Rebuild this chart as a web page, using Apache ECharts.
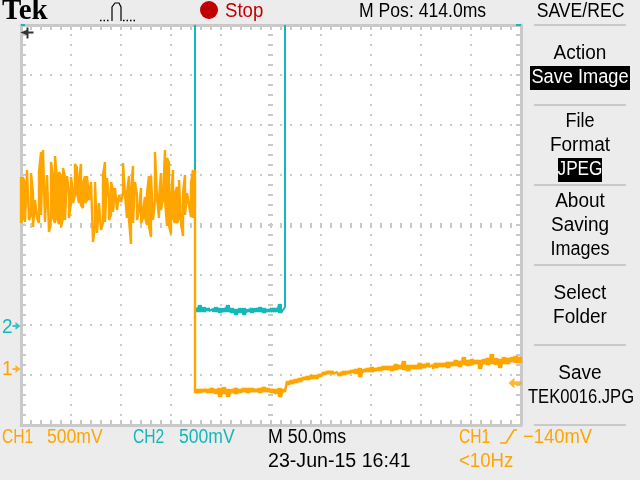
<!DOCTYPE html>
<html><head><meta charset="utf-8">
<script src="https://cdn.jsdelivr.net/npm/echarts@6/dist/echarts.min.js"></script>
<style>html,body{margin:0;padding:0;background:#ececec}#c{width:640px;height:480px}</style>
</head><body><div id="c"></div>
<script>
// Oscilloscope capture: x in ms from the left edge of the screen, y in V above the bottom edge
const ch1NoiseTop = [2.48,2.48,2.40,2.55,2.53,2.52,2.32,2.25,2.23,2.53,2.73,2.75,2.75,2.50,2.50,2.63,2.48,2.69,2.45,2.53,2.48,2.57,2.48,2.49,2.32,2.48,2.33,2.61,2.57,2.45,2.61,2.42,2.49,2.49,2.47,2.43,2.43,2.43,2.43,2.22,2.22,2.50,2.63,2.47,2.27,2.43,2.35,2.37,2.37,2.30,2.30,2.62,2.62,2.32,2.49,2.32,2.59,2.43,2.30,2.15,2.37,2.15,2.28,2.32,2.49,2.49,2.49,2.73,2.73,2.27,2.52,2.27,2.75,2.67,2.62,2.27,2.55,2.32,2.38,2.45,2.46,2.32,2.50,2.32,2.32,2.42,2.55,2.55];
const ch1NoiseBottom = [2.02,2.07,2.03,2.02,2.05,2.10,1.98,1.96,2.07,2.02,2.10,2.08,2.03,2.02,1.93,2.05,2.08,2.02,2.07,2.01,1.98,2.07,2.05,2.07,2.07,2.22,2.22,2.30,2.32,2.22,2.20,2.17,2.22,2.25,2.25,2.27,1.83,2.00,1.92,1.93,1.95,2.02,2.03,2.03,2.05,2.10,2.13,2.15,2.15,2.17,2.23,2.32,2.30,2.07,2.05,1.81,2.02,2.02,2.05,2.07,2.02,2.07,2.08,2.00,1.99,1.88,2.05,2.25,2.27,2.07,2.15,2.15,2.25,1.99,1.99,1.91,2.07,2.02,2.02,2.07,2.02,1.89,2.10,2.10,2.20,2.08,2.07,2.07];
const ch1LowTop = [.36,.36,.36,.36,.37,.36,.37,.38,.36,.36,.37,.36,.37,.37,.37,.36,.37,.38,.37,.36,.36,.37,.36,
 .44,.45,.46,.47,.48,.49,.50,.50,.51,
 .53,.54,.54,.53,.53,.54,.54,.55,.56,.57,.56,.57,.58,.57,.58,.59,.59,.59,.61,.60,.64,.60,.60,.60,.62,.61,.62,.60,.62,.62,.62,.63,.63,.65,.64,.68,.65,.66,.65,.65,.66,.67,.71,.67,.66,.68,.67,.68,.69,.68];
const ch1LowBottom = [.32,.32,.33,.32,.32,.31,.28,.31,.28,.32,.31,.32,.33,.32,.33,.33,.32,.33,.33,.32,.31,.28,.33,
 .40,.41,.42,.43,.45,.45,.46,.46,.48,
 .50,.51,.51,.51,.49,.50,.51,.52,.51,.48,.53,.53,.53,.54,.54,.55,.55,.54,.55,.56,.55,.54,.56,.56,.56,.57,.58,.56,.57,.58,.58,.57,.59,.59,.58,.60,.59,.60,.61,.56,.61,.60,.61,.60,.57,.61,.61,.63,.62,.62];
const ch2LowTop = [1.17,1.20,1.18,1.17,1.16,1.18,1.17,1.17,1.20,1.17,1.16,1.17,1.17,1.16,1.17,1.17,1.18,1.17,1.16,1.17,1.17,1.21,1.18];
const ch2LowBottom = [1.13,1.13,1.13,1.14,1.13,1.13,1.12,1.13,1.13,1.12,1.10,1.12,1.10,1.13,1.12,1.13,1.13,1.12,1.13,1.13,1.13,1.12,1.13];
const noiseStep = 2, lowStart = 174, lowStep = 4, ch2RiseAt = 264, topEdge = 4;
const ch1Ground = 0.56, ch2Ground = 0.99, triggerLevel = 0.42, cursorLevel = 3.92;
const screenTexts = ['SAVE/REC','M Pos: 414.0ms','Stop','Action','Save Image','File','Format','JPEG','About','Saving','Images','Select','Folder','Save','TEK0016.JPG','CH1','500mV','CH2','500mV','M 50.0ms','23-Jun-15 16:41','CH1','\u2212140mV','<10Hz','2','1'];

const CH1 = '#ffa500', CH2 = '#14b8b8', INK = '#000', GRID = '#c9c9c9', RED = '#c00000';
const FONT = '"Liberation Sans",sans-serif';

function columns(start, step, tops, bots) {   // noise columns joined top-to-top and bottom-to-bottom
  const out = [];
  tops.forEach((t, i) => {
    const x = start + i * step;
    if (i % 2 === 0) { out.push([x, t], [x, bots[i]]); }
    else { out.push([x, bots[i]], [x, t]); }
  });
  return out;
}
function weave(start, step, tops, bots) {     // thin band: diagonal strokes fill between the edges
  const out = [];
  tops.forEach((t, i) => {
    const x = start + i * step;
    out.push([x, t], [x, bots[i]], [x + step / 2, t], [x + step / 2, bots[i]]);
  });
  return out;
}
const ch1Data = columns(0, noiseStep, ch1NoiseTop, ch1NoiseBottom)
  .concat(weave(lowStart, lowStep, ch1LowTop, ch1LowBottom));
const ch2Data = [[0, topEdge], [4, topEdge], [null, null], [495, topEdge], [500, topEdge], [null, null], [lowStart, topEdge]]
  .concat(weave(lowStart, lowStep, ch2LowTop.slice(0, 22), ch2LowBottom.slice(0, 22)))
  .concat([[ch2RiseAt, ch2LowTop[22]], [ch2RiseAt, topEdge]]);

const rightArrow = 'path://M0,3L3,3L3,0L8,4L3,8L3,5L0,5Z';
const leftArrow = 'path://M13,3.5L6,3.5L6,0L0,5L6,10L6,6.5L13,6.5Z';
const cursorArrow = 'path://M13,4L8,4L8,0L6,0L6,2.5L0,5L6,7.5L6,11L8,11L8,6L13,6Z';

// x, y, colour, align, horizontal squeeze for each entry of screenTexts
const textLayout = [
  [580.5,11,INK,'center',.88],[359,11,INK,'left',.88],[225,11,RED,'left',.93],
  [580,53,INK,'center',.95],[580,77,'#fff','center',.91],
  [580,121,INK,'center',.9],[580,145,INK,'center',.95],[580,169,'#fff','center',.86],
  [580,201,INK,'center',.95],[580,225,INK,'center',.95],[580,249,INK,'center',.9],
  [580,293,INK,'center',.95],[580,317,INK,'center',.95],
  [580,373,INK,'center',.95],[581,397,INK,'center',.83],
  [2,437,CH1,'left',.78],[47,437,CH1,'left',.88],
  [133,437,CH2,'left',.78],[179,437,CH2,'left',.88],
  [268,437,INK,'left',.89],[268,461,INK,'left',.98],
  [459,437,CH1,'left',.78],[523,437,CH1,'left',.92],[459,461,CH1,'left',.93],
  [2,327,CH2,'left',.95],[2,369,CH1,'left',.95]
];
const separatorRows = [25, 105, 185, 265, 345, 425];

const graphic = [
  { type: 'rect', z: 10, shape: { x: 530, y: 66, width: 100, height: 24 }, style: { fill: '#000' } },
  { type: 'rect', z: 10, shape: { x: 558, y: 158, width: 44, height: 24 }, style: { fill: '#000' } },
  { type: 'circle', z: 10, shape: { cx: 209, cy: 10, r: 9 }, style: { fill: RED } },
  { type: 'text', z: 11, style: { text: 'Tek', x: 2, y: 12, fill: '#000', font: 'bold 29px "Liberation Serif",serif', textAlign: 'left', textVerticalAlign: 'middle' } },
  { type: 'polyline', z: 10, shape: { points: [[112, 21], [112, 7], [115, 3], [119, 3], [121, 7], [121, 21]] }, style: { stroke: '#000', lineWidth: 1.2, fill: 'none' } },
  { type: 'line', z: 10, shape: { x1: 100, y1: 20.5, x2: 110, y2: 20.5 }, style: { stroke: '#000', lineWidth: 1.5, lineDash: [1.5, 2] } },
  { type: 'line', z: 10, shape: { x1: 123, y1: 20.5, x2: 136, y2: 20.5 }, style: { stroke: '#000', lineWidth: 1.5, lineDash: [1.5, 2] } },
  { type: 'polyline', z: 10, shape: { points: [[500, 443], [506, 443], [514, 430], [517, 430]] }, style: { stroke: CH1, lineWidth: 1.6, fill: 'none' } }
];
separatorRows.forEach(y => graphic.push({ type: 'line', z: 10, shape: { x1: 534, y1: y, x2: 626, y2: y }, style: { stroke: GRID, lineWidth: 2 } }));
screenTexts.forEach((t, i) => {
  const [x, y, fill, align, squeeze] = textLayout[i];
  graphic.push({ type: 'text', z: 11, x, y, scaleX: squeeze, style: { text: t, x: 0, y: 0, fill, font: '20px ' + FONT, textAlign: align, textVerticalAlign: 'middle' } });
});

const tickAxis = (extra, min, max, interval) => Object.assign({
  type: 'value', min, max, interval, silent: true,
  axisLabel: { show: false }, splitLine: { show: false },
  axisLine: { show: false },
  axisTick: { show: true, inside: true, length: 5, lineStyle: { color: GRID, width: 2 } },
  minorTick: { show: true, splitNumber: 5, length: 5, lineStyle: { color: GRID, width: 2 } }
}, extra);
const dots = { show: true, lineStyle: { color: GRID, width: 2, type: [2, 8], dashOffset: 1 } };
const border = { show: true, onZero: false, lineStyle: { color: GRID, width: 3 } };

const chart = echarts.init(document.getElementById('c'));
chart.setOption({
  animation: false,
  backgroundColor: '#ececec',
  grid: { left: 21, top: 25, width: 500, height: 400, show: true, backgroundColor: '#fff', borderWidth: 0 },
  xAxis: [
    tickAxis({ position: 'bottom', axisLine: border, splitLine: dots }, 0, 500, 50),
    tickAxis({ position: 'top', axisLine: border }, 0, 500, 50),
    tickAxis({ position: 'bottom', offset: -197 }, 0, 500, 50)
  ],
  yAxis: [
    tickAxis({ position: 'left', axisLine: border, splitLine: dots }, 0, 4, 0.5),
    tickAxis({ position: 'right', axisLine: border }, 0, 4, 0.5),
    tickAxis({ position: 'left', offset: -247 }, 0, 4, 0.5)
  ],
  graphic: { elements: graphic },
  series: [
    { name: 'CH2', type: 'line', data: ch2Data, showSymbol: false, connectNulls: false, z: 3,
      lineStyle: { color: CH2, width: 2 }, itemStyle: { color: CH2 } },
    { name: 'CH1', type: 'line', data: ch1Data, showSymbol: false, z: 4,
      lineStyle: { color: CH1, width: 2.4 }, itemStyle: { color: CH1 } },
    { type: 'scatter', clip: false, z: 5, symbol: rightArrow, symbolSize: [8, 8],
      data: [{ value: [-4.5, ch2Ground], itemStyle: { color: CH2 } }, { value: [-4.5, ch1Ground], itemStyle: { color: CH1 } }] },
    { type: 'scatter', clip: false, z: 5, symbol: leftArrow, symbolSize: [13, 11],
      data: [{ value: [494, triggerLevel], itemStyle: { color: CH1 } }] },
    { type: 'scatter', clip: false, z: 5, symbol: cursorArrow, symbolSize: [13, 11],
      data: [{ value: [6, cursorLevel], itemStyle: { color: '#000' } }] }
  ]
});
</script></body></html>
